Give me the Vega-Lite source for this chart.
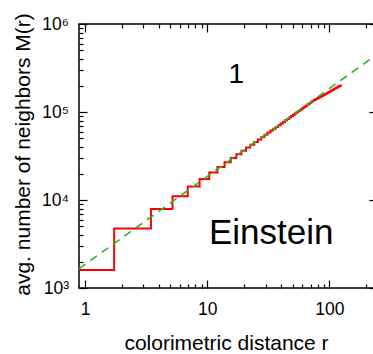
{
  "$schema": "https://vega.github.io/schema/vega-lite/v6.json",
  "width": 298,
  "height": 264,
  "autosize": {"type": "none"},
  "padding": {"left": 79, "top": 24, "right": -4, "bottom": 66},
  "config": {
    "font": "Liberation Sans",
    "view": {"stroke": "#000000", "strokeWidth": 1.5},
    "axis": {"domain": false, "grid": false, "tickColor": "#000000", "tickWidth": 1.2, "labelColor": "#000000", "titleColor": "#000000", "labelFlush": false, "labelOverlap": false, "labelBound": false, "titleFontWeight": "normal", "labelFontSize": 17.5}
  },
  "datasets": {
    "red": [
      {"r": 0.893, "M": 1600}, {"r": 1.732, "M": 4750}, {"r": 3.464, "M": 7900}, {"r": 5.196, "M": 11050},
      {"r": 6.928, "M": 14200}, {"r": 8.66, "M": 17350}, {"r": 10.39, "M": 20500}, {"r": 12.12, "M": 23650},
      {"r": 13.86, "M": 26800}, {"r": 15.59, "M": 29950}, {"r": 17.32, "M": 33100}, {"r": 19.05, "M": 36250},
      {"r": 20.78, "M": 39400}, {"r": 22.52, "M": 42550}, {"r": 24.25, "M": 45700}, {"r": 25.98, "M": 48850},
      {"r": 27.71, "M": 52000}, {"r": 29.44, "M": 55150}, {"r": 31.18, "M": 58300}, {"r": 32.91, "M": 61450},
      {"r": 34.64, "M": 64600}, {"r": 36.37, "M": 67750}, {"r": 38.11, "M": 70900}, {"r": 39.84, "M": 74050},
      {"r": 41.57, "M": 77200}, {"r": 43.3, "M": 80350}, {"r": 45.03, "M": 83500}, {"r": 46.77, "M": 86650},
      {"r": 48.5, "M": 89800}, {"r": 50.23, "M": 92950}, {"r": 51.96, "M": 96100}, {"r": 53.69, "M": 99250},
      {"r": 55.43, "M": 102400}, {"r": 57.16, "M": 105550}, {"r": 58.89, "M": 108700}, {"r": 60.62, "M": 111850},
      {"r": 62.35, "M": 115000}, {"r": 64.09, "M": 118150}, {"r": 65.82, "M": 121300}, {"r": 67.55, "M": 124450},
      {"r": 69.28, "M": 127600}, {"r": 71.01, "M": 130750}, {"r": 72.75, "M": 133900}, {"r": 74.48, "M": 136200},
      {"r": 76.21, "M": 138500}, {"r": 77.94, "M": 140800}, {"r": 79.67, "M": 143100}, {"r": 81.41, "M": 145400},
      {"r": 83.14, "M": 147700}, {"r": 84.87, "M": 150000}, {"r": 86.6, "M": 152300}, {"r": 88.33, "M": 154600},
      {"r": 90.07, "M": 156900}, {"r": 91.8, "M": 159200}, {"r": 93.53, "M": 161500}, {"r": 95.26, "M": 163800},
      {"r": 96.99, "M": 166100}, {"r": 98.73, "M": 168400}, {"r": 100.46, "M": 170700}, {"r": 102.19, "M": 173000},
      {"r": 103.92, "M": 175300}, {"r": 105.65, "M": 177600}, {"r": 107.39, "M": 179900}, {"r": 109.12, "M": 182200},
      {"r": 110.85, "M": 184500}, {"r": 112.58, "M": 186800}, {"r": 114.31, "M": 189100}, {"r": 116.05, "M": 191400},
      {"r": 117.78, "M": 193700}, {"r": 119.51, "M": 196000}, {"r": 121.24, "M": 198300}, {"r": 122.98, "M": 200600},
      {"r": 124.71, "M": 203000}
    ],
    "green": [{"r": 0.893, "M": 1652}, {"r": 245, "M": 453000}],
    "t1": [{"r": 17.3, "M": 263000, "label": "1"}],
    "t2": [{"r": 33.4, "M": 4220, "label": "Einstein"}]
  },
  "resolve": {"axis": {"x": "independent", "y": "independent"}},
  "layer": [
    {
      "data": {"name": "red"},
      "mark": {"type": "line", "interpolate": "step-after", "color": "#ff0000", "strokeWidth": 2},
      "encoding": {
        "x": {"field": "r", "type": "quantitative", "scale": {"type": "log", "domain": [0.893, 245], "nice": false},
          "axis": {"orient": "bottom", "values": [1, 10, 100], "tickSize": 8, "offset": -8, "labelPadding": 12, "labelExpr": "format(datum.value, 'd')",
            "title": "colorimetric distance r", "titleFontSize": 21, "titleX": 147, "titleY": 69, "titleBaseline": "alphabetic"}},
        "y": {"field": "M", "type": "quantitative", "scale": {"type": "log", "domain": [1000, 1000000], "nice": false},
          "axis": {"orient": "left", "values": [1000, 10000, 100000, 1000000], "tickSize": 8, "offset": -8, "labelPadding": 10.5,
            "labelExpr": "datum.value < 5000 ? '10³' : datum.value < 50000 ? '10⁴' : datum.value < 500000 ? '10⁵' : '10⁶'",
            "title": "avg. number of neighbors M(r)", "titleFontSize": 21, "titleAngle": 270, "titleX": -58, "titleY": 130, "titleBaseline": "alphabetic"}}
      }
    },
    {
      "data": {"name": "green"},
      "mark": {"type": "line", "color": "#22bb22", "strokeWidth": 1.6, "strokeDash": [8, 6]},
      "encoding": {
        "x": {"field": "r", "type": "quantitative", "scale": {"type": "log", "domain": [0.893, 245], "nice": false},
          "axis": {"orient": "bottom", "values": [2, 3, 4, 5, 6, 7, 8, 9, 20, 30, 40, 50, 60, 70, 80, 90, 200], "tickSize": 4, "offset": -4, "labels": false, "title": null}},
        "y": {"field": "M", "type": "quantitative", "scale": {"type": "log", "domain": [1000, 1000000], "nice": false},
          "axis": {"orient": "left", "values": [2000, 3000, 4000, 5000, 6000, 7000, 8000, 9000, 20000, 30000, 40000, 50000, 60000, 70000, 80000, 90000, 200000, 300000, 400000, 500000, 600000, 700000, 800000, 900000], "tickSize": 4, "offset": -4, "labels": false, "title": null}}
      }
    },
    {
      "data": {"name": "t1"},
      "mark": {"type": "text", "fontSize": 28, "align": "center", "baseline": "middle", "color": "#000000"},
      "encoding": {
        "x": {"field": "r", "type": "quantitative", "scale": {"type": "log", "domain": [0.893, 245], "nice": false},
          "axis": {"orient": "top", "values": [1, 10, 100], "tickSize": 8, "offset": -8, "labels": false, "title": null}},
        "y": {"field": "M", "type": "quantitative", "scale": {"type": "log", "domain": [1000, 1000000], "nice": false},
          "axis": {"orient": "right", "values": [1000, 10000, 100000, 1000000], "tickSize": 8, "offset": -8, "labels": false, "title": null}},
        "text": {"field": "label"}
      }
    },
    {
      "data": {"name": "t2"},
      "mark": {"type": "text", "fontSize": 35, "align": "center", "baseline": "middle", "color": "#000000"},
      "encoding": {
        "x": {"field": "r", "type": "quantitative", "scale": {"type": "log", "domain": [0.893, 245], "nice": false},
          "axis": {"orient": "top", "values": [2, 3, 4, 5, 6, 7, 8, 9, 20, 30, 40, 50, 60, 70, 80, 90, 200], "tickSize": 4, "offset": -4, "labels": false, "title": null}},
        "y": {"field": "M", "type": "quantitative", "scale": {"type": "log", "domain": [1000, 1000000], "nice": false},
          "axis": {"orient": "right", "values": [2000, 3000, 4000, 5000, 6000, 7000, 8000, 9000, 20000, 30000, 40000, 50000, 60000, 70000, 80000, 90000, 200000, 300000, 400000, 500000, 600000, 700000, 800000, 900000], "tickSize": 4, "offset": -4, "labels": false, "title": null}},
        "text": {"field": "label"}
      }
    }
  ]
}
